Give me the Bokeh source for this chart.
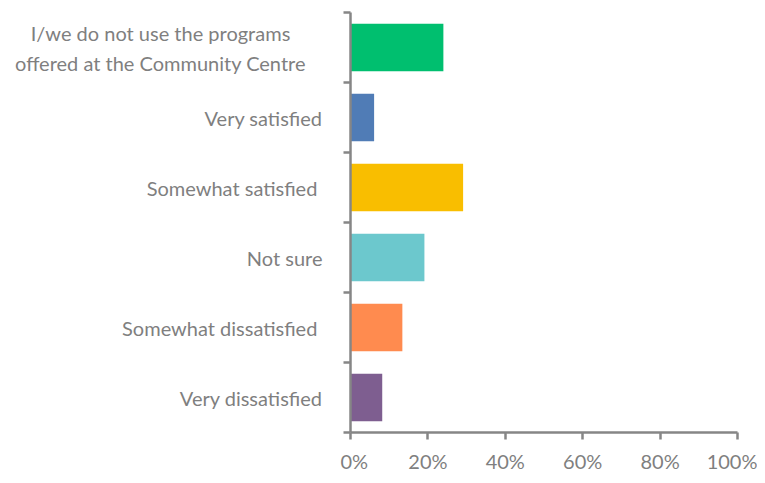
from bokeh.plotting import figure
from bokeh.models import Range1d, FixedTicker
from bokeh.layouts import row
from bokeh.core.properties import value
from bokeh.embed import file_html
from bokeh.resources import INLINE

categories = [
    "I/we do not use the programs\noffered at the Community Centre",
    "Very satisfied",
    "Somewhat satisfied ",
    "Not sure",
    "Somewhat dissatisfied ",
    "Very dissatisfied",
]
values = [24.0, 6.1, 29.1, 19.1, 13.4, 8.2]
bar_colors = ["#00BF6F", "#507CB6", "#F9BE00", "#6CC8CD", "#FF8B4F", "#7E5E90"]
x_ticks = [0, 20, 40, 60, 80, 100]
x_tick_labels = ["0%", "20%", "40%", "60%", "80%", "100%"]

FONT = "Lato"
FSIZE = "20px"
TXT = "#7F7F7F"
AX = "#868686"
H = 475
TOP, BOTTOM = 12, 40
LABEL_W = 340

n = len(categories)
pos = [n - 0.5 - i for i in range(n)]
y_range = Range1d(0, n)

# ---- label panel (category names) ----
lab = figure(width=LABEL_W, height=H, output_backend="svg", toolbar_location=None,
             x_range=Range1d(-LABEL_W, 0), y_range=y_range,
             min_border_left=0, min_border_right=0, min_border_top=TOP, min_border_bottom=BOTTOM)
lab.axis.visible = False
lab.grid.visible = False
lab.outline_line_color = None

single = [i for i, c in enumerate(categories) if "\n" not in c]
multi = [i for i, c in enumerate(categories) if "\n" in c]
lab.text(x=[0] * len(single), y=[pos[i] for i in single], text=[categories[i] for i in single],
         x_offset=-18, text_align="right", text_baseline="middle",
         text_font=value(FONT), text_font_size=value(FSIZE), text_color=TXT)
lab.text(x=[0] * len(multi), y=[pos[i] for i in multi], text=[categories[i] for i in multi],
         x_offset=-180, text_align="center", text_baseline="middle", text_line_height=1.25,
         text_font=value(FONT), text_font_size=value(FSIZE), text_color=TXT)

# ---- bar chart ----
p = figure(width=757 - LABEL_W, height=H, output_backend="svg", toolbar_location=None,
           x_range=Range1d(0, 100), y_range=y_range,
           min_border_left=350 - LABEL_W, min_border_right=20,
           min_border_top=TOP, min_border_bottom=BOTTOM)
p.outline_line_color = None
p.xgrid.visible = False
p.ygrid.visible = False

p.hbar(y=pos, left=0, right=values, height=0.68, fill_color=bar_colors, line_color=None)

xa = p.xaxis[0]
xa.ticker = FixedTicker(ticks=x_ticks, minor_ticks=[])
xa.major_label_overrides = {t: l for t, l in zip(x_ticks, x_tick_labels)}
xa.axis_line_color = AX
xa.axis_line_width = 2.5
xa.major_tick_line_color = AX
xa.major_tick_line_width = 2.5
xa.major_tick_in = 0
xa.major_tick_out = 7
xa.minor_tick_line_color = None
xa.major_label_text_font = FONT
xa.major_label_text_font_size = FSIZE
xa.major_label_text_color = TXT
xa.major_label_standoff = 9

ya = p.yaxis[0]
ya.ticker = FixedTicker(ticks=[], minor_ticks=list(range(n + 1)))
ya.major_tick_line_color = None
ya.minor_tick_line_color = AX
ya.minor_tick_line_width = 2.5
ya.minor_tick_in = 0
ya.minor_tick_out = 7
ya.axis_line_color = AX
ya.axis_line_width = 2.5
ya.major_label_standoff = 0

layout = row(lab, p, spacing=0)
open("out.html", "w").write(file_html(layout, INLINE))
